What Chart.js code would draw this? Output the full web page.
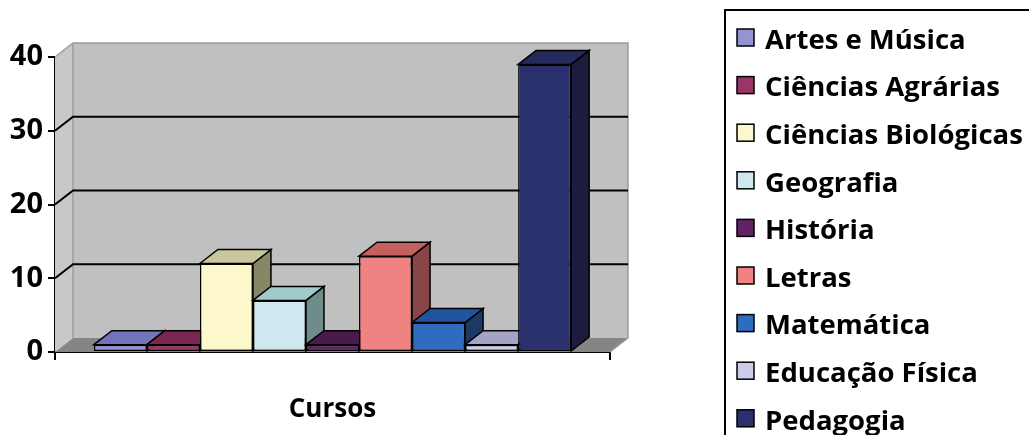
<!DOCTYPE html>
<html>
<head>
<meta charset="utf-8">
<script src="https://cdn.jsdelivr.net/npm/chart.js@4.4.0/dist/chart.umd.min.js"></script>
<style>
  body { margin: 0; background: #fff; }
  #wrap { width: 1029px; height: 435px; position: relative; }
</style>
</head>
<body>
<div id="wrap"><canvas id="grafico"></canvas></div>
<script>
const categorias = ['Cursos'];
const cursos = ['Artes e Música', 'Ciências Agrárias', 'Ciências Biológicas', 'Geografia', 'História', 'Letras', 'Matemática', 'Educação Física', 'Pedagogia'];
const valores = [1, 1, 12, 7, 1, 13, 4, 1, 39];
const yTicks = [0, 10, 20, 30, 40];

// cores: frente, topo e lado de cada barra
const corFrente = ['#9494d2', '#9c3567', '#fdf8cc', '#cfe8f0', '#642266', '#f08282', '#2f6cbf', '#cccbea', '#2a2f6e'];
const corTopo   = ['#7373b8', '#7b2650', '#c9c79e', '#9fcbcb', '#4a1a4c', '#c46060', '#1f55a0', '#a3a3c6', '#252a5c'];
const corLado   = ['#5a5a8a', '#5a1c3a', '#878765', '#6e8c8a', '#38123a', '#8a4646', '#1c3966', '#7a7a99', '#1c1c3e'];

const PROF_X = 18, PROF_Y = -14;
const FONTE = '"Open Sans", Lato, sans-serif';

function poly(ctx, pts, fill, stroke) {
  ctx.beginPath();
  ctx.moveTo(pts[0][0], pts[0][1]);
  for (let i = 1; i < pts.length; i++) ctx.lineTo(pts[i][0], pts[i][1]);
  ctx.closePath();
  if (fill) { ctx.fillStyle = fill; ctx.fill(); }
  if (stroke) { ctx.strokeStyle = stroke; ctx.lineWidth = 1.5; ctx.stroke(); }
}

const efeito3d = {
  id: 'efeito3d',
  beforeDatasetsDraw(chart) {
    const ctx = chart.ctx, a = chart.chartArea, y = chart.scales.y;
    ctx.save();
    // paredes e chao
    ctx.fillStyle = '#c0c0c0';
    ctx.fillRect(a.left + PROF_X, a.top + PROF_Y, a.width, a.height);
    poly(ctx, [[a.left, a.top], [a.left + PROF_X, a.top + PROF_Y], [a.left + PROF_X, a.bottom + PROF_Y], [a.left, a.bottom]], '#c8c8c8');
    poly(ctx, [[a.left, a.bottom], [a.left + PROF_X, a.bottom + PROF_Y], [a.right + PROF_X, a.bottom + PROF_Y], [a.right, a.bottom]], '#858585');
    ctx.strokeStyle = '#9c9c9c';
    ctx.lineWidth = 1.5;
    ctx.beginPath();
    ctx.moveTo(a.left, a.top);
    ctx.lineTo(a.left + PROF_X, a.top + PROF_Y);
    ctx.lineTo(a.right + PROF_X, a.top + PROF_Y);
    ctx.lineTo(a.right + PROF_X, a.bottom + PROF_Y);
    ctx.lineTo(a.right, a.bottom);
    ctx.moveTo(a.left + PROF_X, a.top + PROF_Y);
    ctx.lineTo(a.left + PROF_X, a.bottom + PROF_Y);
    ctx.stroke();
    // linhas de grade na parede
    ctx.strokeStyle = '#000';
    ctx.lineWidth = 2;
    y.ticks.forEach(t => {
      if (t.value <= y.min || t.value >= y.max) return;
      const py = y.getPixelForValue(t.value);
      ctx.beginPath();
      ctx.moveTo(a.left, py);
      ctx.lineTo(a.left + PROF_X, py + PROF_Y);
      ctx.lineTo(a.right + PROF_X, py + PROF_Y);
      ctx.stroke();
    });
    // barras 3d, da esquerda para a direita
    chart.data.datasets.forEach((ds, i) => {
      chart.getDatasetMeta(i).data.forEach(bar => {
        const p = bar.getProps(['x', 'y', 'base', 'width'], true);
        const l = p.x - p.width / 2, r = p.x + p.width / 2;
        poly(ctx, [[r, p.y], [r + PROF_X, p.y + PROF_Y], [r + PROF_X, p.base + PROF_Y], [r, p.base]], corLado[i], '#000');
        poly(ctx, [[l, p.y], [l + PROF_X, p.y + PROF_Y], [r + PROF_X, p.y + PROF_Y], [r, p.y]], corTopo[i], '#000');
        bar.draw(ctx);
      });
    });
    ctx.restore();
    return false;
  }
};

const legenda = {
  id: 'legenda',
  afterDraw(chart) {
    const ctx = chart.ctx;
    ctx.save();
    ctx.strokeStyle = '#000';
    ctx.lineWidth = 2;
    ctx.strokeRect(725, 10, 400, 500);
    ctx.font = 'bold 27.5px ' + FONTE;
    ctx.textBaseline = 'middle';
    ctx.lineWidth = 1.5;
    chart.data.datasets.forEach((ds, i) => {
      const cy = 38 + i * 47.6;
      ctx.fillStyle = ds.backgroundColor;
      ctx.fillRect(737, cy - 9, 17, 17);
      ctx.strokeRect(737, cy - 9, 17, 17);
      ctx.fillStyle = '#000';
      ctx.fillText(ds.label, 765, cy + 3);
    });
    ctx.restore();
  }
};

new Chart(document.getElementById('grafico'), {
  type: 'bar',
  data: {
    labels: categorias,
    datasets: cursos.map((nome, i) => ({
      label: nome,
      data: [valores[i]],
      backgroundColor: corFrente[i],
      borderColor: '#000',
      borderWidth: 1.5,
      borderSkipped: false,
      categoryPercentage: 0.86,
      barPercentage: 1
    }))
  },
  options: {
    responsive: true,
    maintainAspectRatio: false,
    animation: false,
    layout: { padding: { top: 57, right: 419, bottom: 0, left: 0 } },
    plugins: { legend: { display: false }, tooltip: { enabled: false } },
    scales: {
      x: {
        z: 1,
        ticks: { color: '#000', padding: 34, font: { family: FONTE, size: 26, weight: 'bold' } },
        grid: { drawOnChartArea: false, tickLength: 8, color: '#000', lineWidth: 2 },
        border: { color: '#000', width: 2 },
        afterFit(s) { s.height = 83; }
      },
      y: {
        z: 1,
        min: yTicks[0],
        max: yTicks[yTicks.length - 1],
        ticks: { stepSize: yTicks[1] - yTicks[0], color: '#000', padding: 5, font: { family: FONTE, size: 29, weight: 'bold' } },
        grid: { drawOnChartArea: false, tickLength: 7, color: '#000', lineWidth: 2 },
        border: { color: '#000', width: 2 },
        afterFit(s) { s.width = 55; }
      }
    }
  },
  plugins: [efeito3d, legenda]
});
</script>
</body>
</html>
